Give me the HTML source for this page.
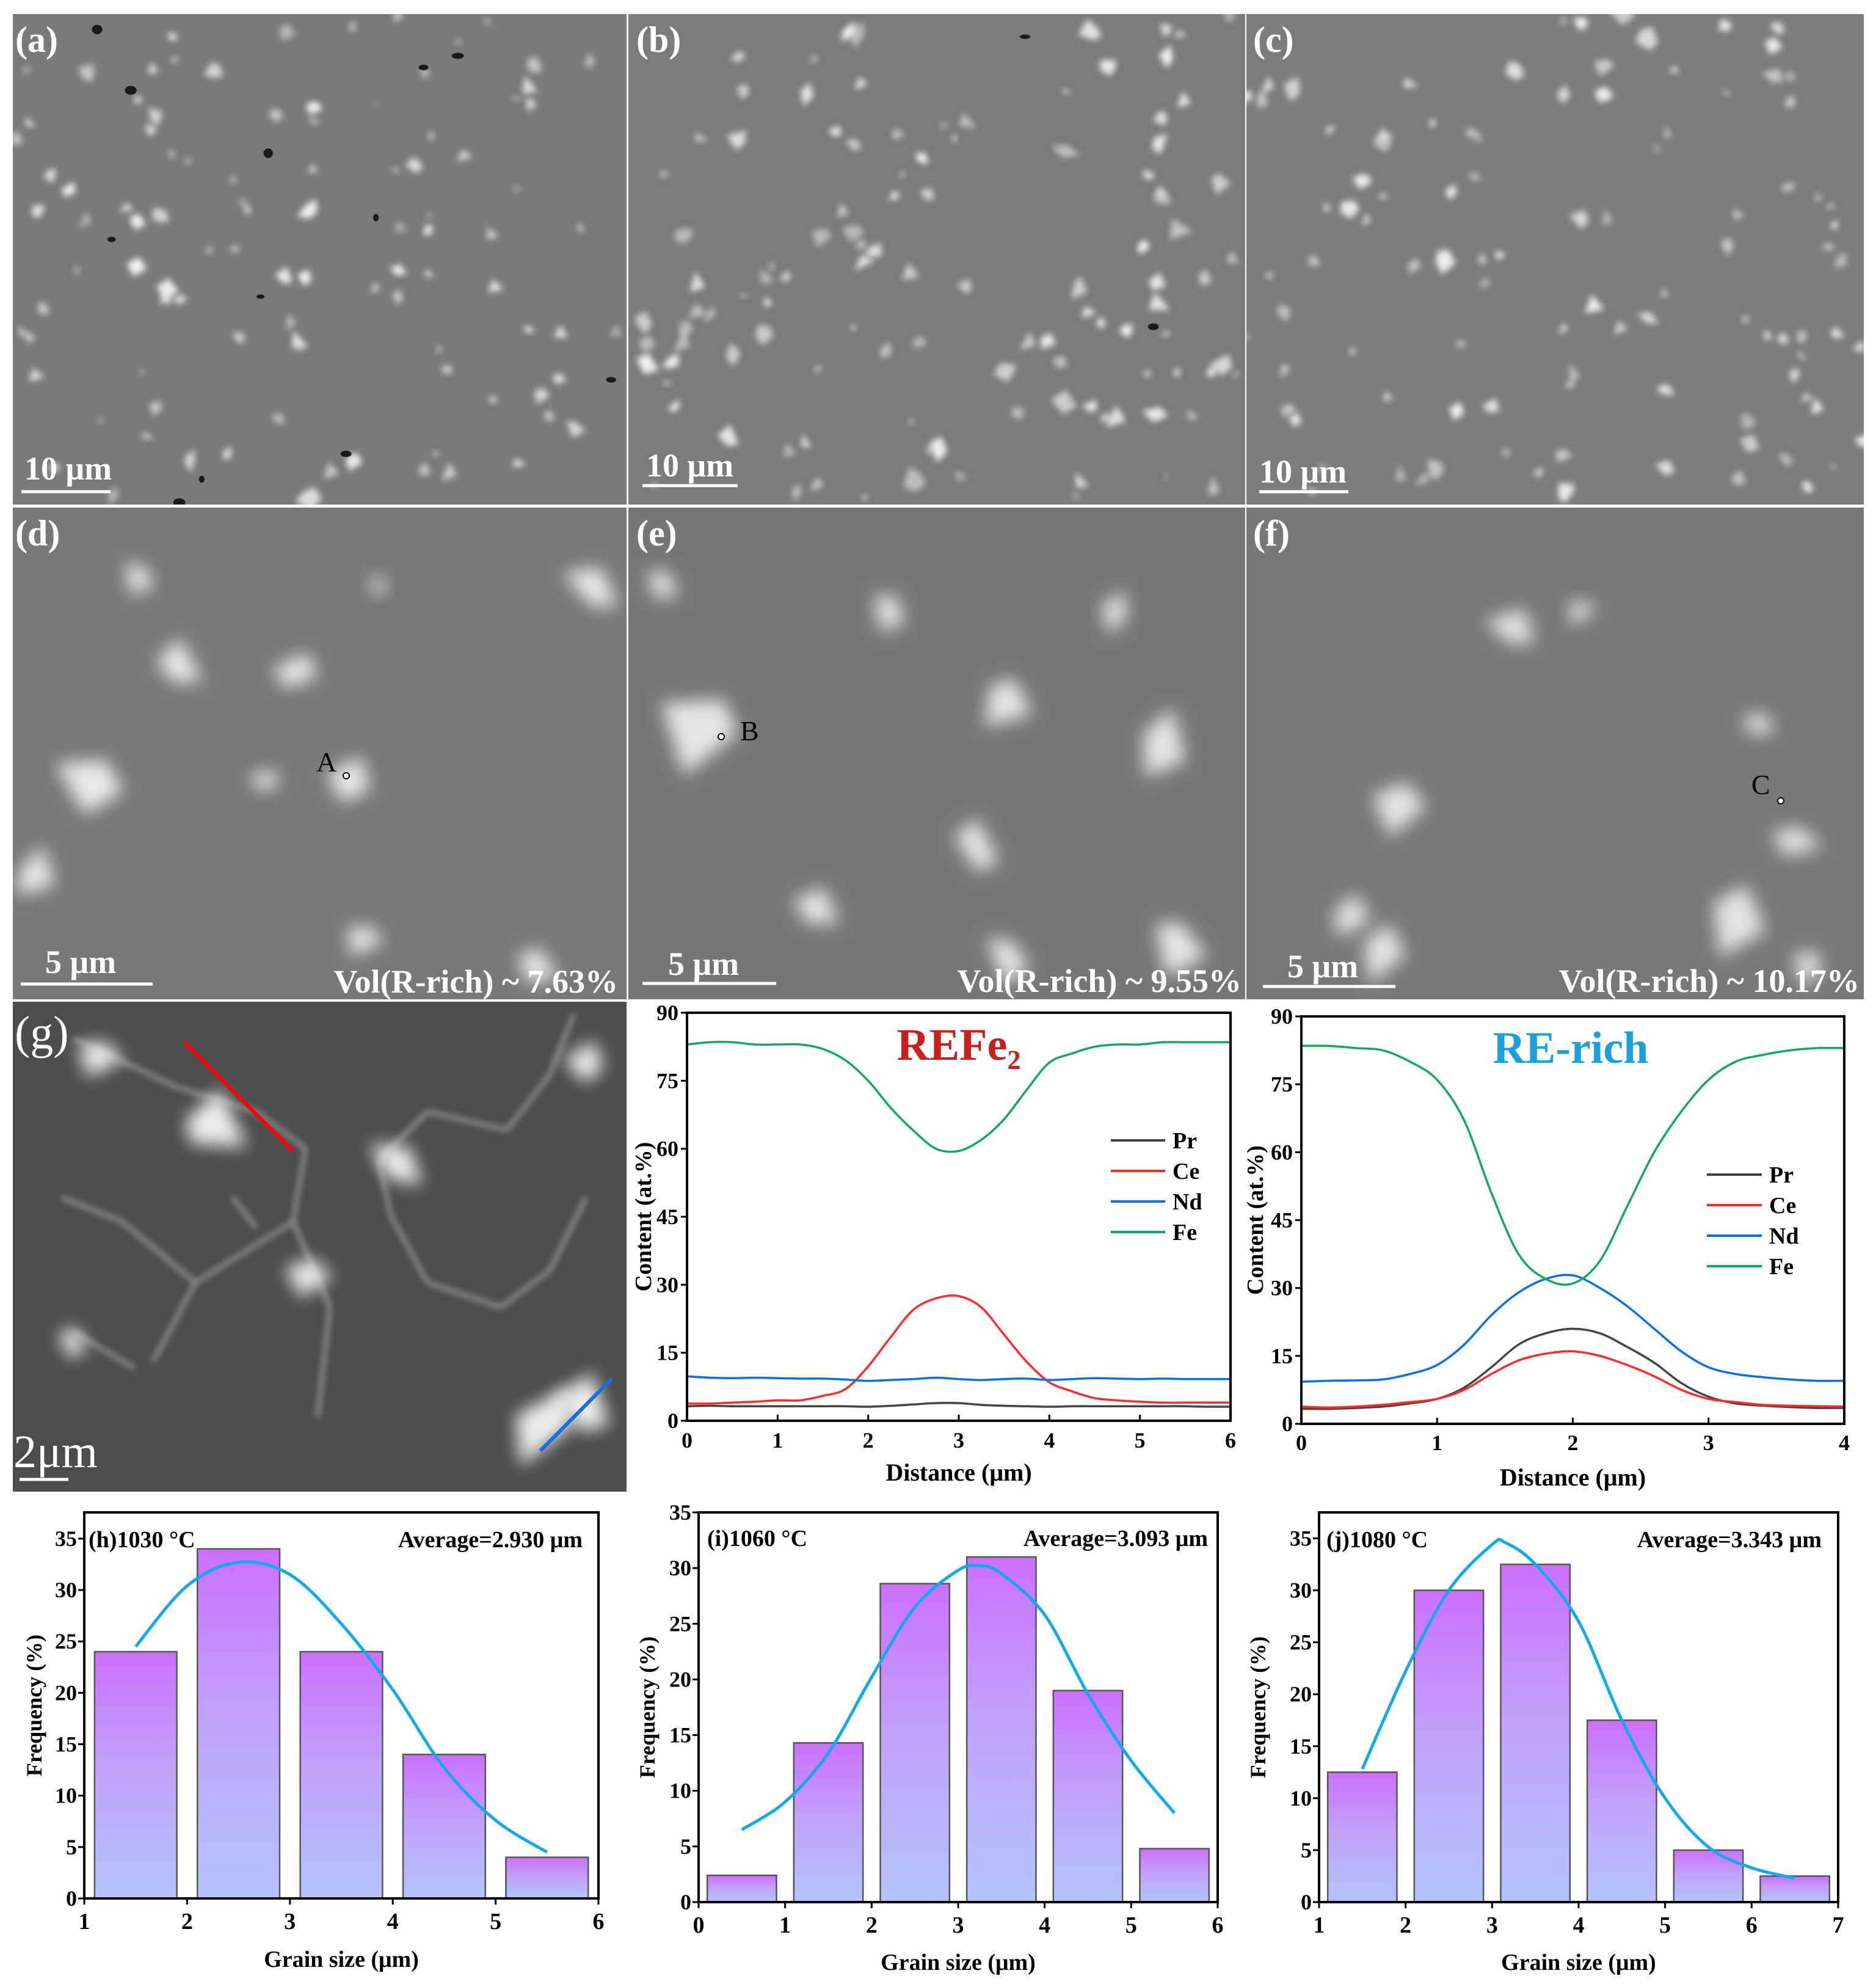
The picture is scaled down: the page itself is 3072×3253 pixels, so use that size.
<!DOCTYPE html>
<html><head><meta charset="utf-8">
<style>
html,body{margin:0;padding:0;background:#fff;}
svg{display:block;font-family:"Liberation Serif",serif;}
</style></head>
<body>
<svg id="fig" width="3072" height="3253" viewBox="0 0 3072 3253" xmlns="http://www.w3.org/2000/svg">
<defs>
<filter id="blur6" x="-50%" y="-50%" width="200%" height="200%"><feGaussianBlur stdDeviation="5"/></filter>
<filter id="blur14" x="-50%" y="-50%" width="200%" height="200%"><feGaussianBlur stdDeviation="14"/></filter>
<linearGradient id="barGrad" x1="0" y1="0" x2="0" y2="1">
<stop offset="0" stop-color="#cb6ffd"/><stop offset="0.45" stop-color="#c2a0fb"/><stop offset="1" stop-color="#b3c4fd"/>
</linearGradient>
<clipPath id="clipA"><rect x="21" y="23" width="1005" height="803"/></clipPath>
<clipPath id="clipB"><rect x="1029" y="23" width="1010" height="803"/></clipPath>
<clipPath id="clipC"><rect x="2041" y="23" width="1011" height="803"/></clipPath>
<clipPath id="clipD"><rect x="21" y="831" width="1005" height="805"/></clipPath>
<clipPath id="clipE"><rect x="1029" y="831" width="1010" height="805"/></clipPath>
<clipPath id="clipF"><rect x="2041" y="831" width="1011" height="805"/></clipPath>
<clipPath id="clipG"><rect x="21" y="1640" width="1005" height="802"/></clipPath>
</defs>
<g id="micro"></g>
<g id="charts"></g>
</svg>
<script>
// ===== Line profile data (REFe2, d = 0..6 step 0.25 µm) =====
const refeDist = [0,0.25,0.5,0.75,1,1.25,1.5,1.75,2,2.25,2.5,2.75,3,3.25,3.5,3.75,4,4.25,4.5,4.75,5,5.25,5.5,5.75,6];
const refeFe = [83,83.5,83.5,83,83,83,82,79.5,75,69,64,60,59.5,62,66.5,73,79,81,82.5,83,83,83.5,83.5,83.5,83.5];
const refeCe = [3.8,3.8,4,4.2,4.5,4.5,5.5,7,12,18.5,24.5,27,27.5,25,19,13,8.5,6.5,5,4.5,4.2,4,4,4,4];
const refeNd = [9.8,9.5,9.4,9.5,9.4,9.3,9.3,9.1,8.8,9.0,9.2,9.5,9.2,9.0,9.2,9.3,9.0,9.2,9.4,9.3,9.2,9.3,9.2,9.2,9.2];
const refePr = [3.2,3.3,3.2,3.2,3.2,3.2,3.2,3.2,3.1,3.3,3.6,3.9,3.9,3.5,3.3,3.2,3.1,3.2,3.2,3.2,3.2,3.2,3.2,3.1,3.1];
// ===== Line profile data (RE-rich, d = 0..4 step 0.2 µm) =====
const rerDist = [0,0.2,0.4,0.6,0.8,1,1.2,1.4,1.6,1.8,2,2.2,2.4,2.6,2.8,3,3.2,3.4,3.6,3.8,4];
const rerFe = [83.5,83.5,83,82.5,80,76,67,51,37.5,32,31,36,48,60,69,76,80,81.5,82.5,83,83];
const rerNd = [9.3,9.5,9.6,9.8,11,13,17.5,24,29,32,32.8,30,26,21,16,12.5,11,10.3,9.8,9.5,9.5];
const rerPr = [3.3,3.3,3.5,3.8,4.5,5.5,8,12.5,17.5,20,21,20,17,13.5,9,6,4.5,4,3.7,3.5,3.5];
const rerCe = [3.8,3.6,3.8,4.2,4.8,5.5,7.5,11,14,15.5,16,15,13,10.5,7.5,5.5,4.8,4.2,4,3.9,3.8];
const contentTicks = [0,15,30,45,60,75,90];
const refeXTicks = [0,1,2,3,4,5,6];
const rerXTicks = [0,1,2,3,4];
const elementNames = ["Pr","Ce","Nd","Fe"];
// ===== Histogram data =====
const hBins = [1.5,2.5,3.5,4.5,5.5];
const hFreq = [24,34,24,14,4];
const hFitX = [1.5,2,2.5,3,3.5,4,4.5,5,5.5];
const hFitY = [24.5,30.4,32.7,31.5,26.7,20.3,12.7,7.6,4.5];
const hXTicks = [1,2,3,4,5,6];
const hYTicks = [0,5,10,15,20,25,30,35];
const iBins = [0.5,1.5,2.5,3.5,4.5,5.5];
const iFreq = [2.4,14.3,28.6,31,19,4.8];
const iFitX = [0.5,1,1.5,2,2.5,3,3.25,3.5,4,4.5,5,5.5];
const iFitY = [6.5,9.0,13.4,20.2,26.5,29.8,30.2,29.5,25.8,18.7,12.7,8];
const iXTicks = [0,1,2,3,4,5,6];
const iYTicks = [0,5,10,15,20,25,30,35];
const jBins = [1.5,2.5,3.5,4.5,5.5,6.5];
const jFreq = [12.5,30,32.5,17.5,5,2.5];
const jFitX = [1.5,2,2.5,3,3.15,3.5,4,4.5,5,5.5,6,6.5];
const jFitY = [12.8,22.2,30,34.4,34.6,32.5,27,17.5,10,5.3,3.3,2.3];
const jXTicks = [1,2,3,4,5,6,7];
const jYTicks = [0,5,10,15,20,25,30,35];

const NS = "http://www.w3.org/2000/svg";
function mk(tag, attrs, parent, text){
  const e = document.createElementNS(NS, tag);
  for (const k in attrs) e.setAttribute(k, attrs[k]);
  if (text !== undefined) e.textContent = text;
  parent.appendChild(e);
  return e;
}
function smoothPath(pts){
  let d = "M" + pts[0][0].toFixed(1) + "," + pts[0][1].toFixed(1);
  for (let i = 0; i < pts.length - 1; i++){
    const p0 = pts[i-1] || pts[i], p1 = pts[i], p2 = pts[i+1], p3 = pts[i+2] || p2;
    const c1x = p1[0] + (p2[0]-p0[0])/6, c1y = p1[1] + (p2[1]-p0[1])/6;
    const c2x = p2[0] - (p3[0]-p1[0])/6, c2y = p2[1] - (p3[1]-p1[1])/6;
    d += " C" + c1x.toFixed(1)+","+c1y.toFixed(1)+" "+c2x.toFixed(1)+","+c2y.toFixed(1)+" "+p2[0].toFixed(1)+","+p2[1].toFixed(1);
  }
  return d;
}

// ================= Micrographs =================
const micro = document.getElementById("micro");
let seed = 12345;
function rnd(){ seed = (seed * 1103515245 + 12345) % 2147483648; return seed / 2147483648; }

function panel(name, x, y, w, h, bg, clip){
  const g = mk("g", {"clip-path": "url(#"+clip+")"}, micro);
  
  
  mk("rect", {x:x, y:y, width:w, height:h, fill:bg}, g);
  return g;
}
function spots(g, x, y, w, h, n, rmin, rmax, dark){
  for (let i = 0; i < n; i++){
    const cx = x + rnd()*w, cy = y + rnd()*h, r = rmin + rnd()*(rmax-rmin);
    const pts = [];
    const k = 3 + Math.floor(rnd()*3);
    for (let j = 0; j < k; j++){
      const a = j/k*Math.PI*2 + rnd()*0.6, rr = r*(0.5 + rnd()*0.9);
      pts.push((cx + Math.cos(a)*rr).toFixed(1) + "," + (cy + Math.sin(a)*rr).toFixed(1));
    }
    mk("polygon", {points: pts.join(" "), fill: "#f4f4f4", opacity: (0.5 + rnd()*0.5).toFixed(2), filter: "url(#blur6)"}, g);
  }
  for (let i = 0; i < dark; i++){
    mk("ellipse", {cx: x + rnd()*w, cy: y + rnd()*h, rx: 4 + rnd()*6, ry: 3 + rnd()*5, fill: "#1a1a1a"}, g);
  }
}
function blobs(g, list, bright){
  list.forEach(b => {
    const [cx, cy, r] = b;
    const pts = [];
    for (let j = 0; j < 4; j++){
      const a = j/4*Math.PI*2 + rnd()*0.8, rr = r*(0.6 + rnd()*0.8);
      pts.push((cx + Math.cos(a)*rr).toFixed(1) + "," + (cy + Math.sin(a)*rr).toFixed(1));
    }
    mk("polygon", {points: pts.join(" "), fill: bright, filter: "url(#blur14)"}, g);
  });
}
function label(g, txt, x, y, size, name, opts){
  const t = mk("text", Object.assign({x:x, y:y, "font-size":size, "font-weight":"bold", fill:"#fff"}, opts||{}), g, txt);
  
  
  return t;
}
function scaleBar(g, txt, tx, ty, x1, x2, by, name){
  label(g, txt, tx, ty, 54, name + "-label");
  const l = mk("line", {x1:x1, x2:x2, y1:by, y2:by, stroke:"#fff", "stroke-width":5}, g);
  
  
}

// Row 1
const pa = panel("micrograph-a", 21, 23, 1005, 803, "#7a7a7a", "clipA");
spots(pa, 21, 23, 1005, 803, 100, 6, 17, 12);
label(pa, "(a)", 25, 85, 60, "panel-label-a");
scaleBar(pa, "10 μm", 40, 785, 35, 181, 805, "scale-bar-a");
const pb = panel("micrograph-b", 1029, 23, 1010, 803, "#7b7b7b", "clipB");
spots(pb, 1029, 23, 1010, 803, 110, 6, 20, 2);
label(pb, "(b)", 1042, 85, 60, "panel-label-b");
scaleBar(pb, "10 μm", 1058, 780, 1052, 1208, 795, "scale-bar-b");
const pc = panel("micrograph-c", 2041, 23, 1011, 803, "#7c7c7c", "clipC");
spots(pc, 2041, 23, 1011, 803, 100, 6, 19, 0);
label(pc, "(c)", 2052, 85, 60, "panel-label-c");
scaleBar(pc, "10 μm", 2062, 790, 2062, 2208, 805, "scale-bar-c");

// Row 2
const pd = panel("micrograph-d", 21, 831, 1005, 805, "#787878", "clipD");
blobs(pd, [[140,1280,55],[285,1085,40],[480,1100,35],[430,1275,30],[580,1285,35],[970,960,45],[60,1430,40],[595,1540,35],[880,1580,40],[230,945,25],[620,960,15]], "#eaeaea");
label(pd, "(d)", 25, 893, 60, "panel-label-d");
scaleBar(pd, "5 μm", 74, 1593, 34, 250, 1611, "scale-bar-d");
label(pd, "Vol(R-rich) ~ 7.63%", 1012, 1625, 54, "vol-fraction-d", {"text-anchor":"end"});
mk("text", {x:518, y:1263, "font-size":46, fill:"#000"}, pd, "A");
mk("circle", {cx:567, cy:1270, r:5, fill:"#fff", stroke:"#000", "stroke-width":2}, pd);
const pe = panel("micrograph-e", 1029, 831, 1010, 805, "#767676", "clipE");
blobs(pe, [[1140,1200,60],[1090,960,35],[1450,995,40],[1600,1380,40],[1650,1145,55],[1910,1215,60],[1930,1540,45],[1650,1570,35],[1340,1480,45],[1820,1000,30]], "#e6e6e6");
label(pe, "(e)", 1042, 893, 60, "panel-label-e");
scaleBar(pe, "5 μm", 1094, 1596, 1052, 1271, 1610, "scale-bar-e");
label(pe, "Vol(R-rich) ~ 9.55%", 2033, 1624, 54, "vol-fraction-e", {"text-anchor":"end"});
mk("circle", {cx:1181, cy:1206, r:5, fill:"#fff", stroke:"#000", "stroke-width":2}, pe);
mk("text", {x:1212, y:1212, "font-size":46, fill:"#000"}, pe, "B");
const pf = panel("micrograph-f", 2041, 831, 1011, 805, "#787878", "clipF");
blobs(pf, [[2480,1020,45],[2285,1320,50],[2840,1510,55],[2940,1380,40],[2210,1500,45],[2590,1000,25],[2880,1190,25],[2260,1560,40],[2960,1580,30]], "#e4e4e4");
label(pf, "(f)", 2052, 893, 60, "panel-label-f");
scaleBar(pf, "5 μm", 2108, 1600, 2068, 2285, 1615, "scale-bar-f");
label(pf, "Vol(R-rich) ~ 10.17%", 3045, 1624, 54, "vol-fraction-f", {"text-anchor":"end"});
mk("text", {x:2868, y:1300, "font-size":46, fill:"#000"}, pf, "C");
mk("circle", {cx:2916, cy:1311, r:5, fill:"#fff", stroke:"#000", "stroke-width":2}, pf);

// Row 3 (g)
const pg = panel("micrograph-g", 21, 1640, 1005, 802, "#4c4c4c", "clipG");
const gl = mk("g", {stroke:"#8a8a8a", "stroke-width":8, fill:"none", filter:"url(#blur6)"}, pg);
[[120,1700,290,1780],[290,1780,420,1820],[420,1820,500,1880],[500,1880,480,2000],[480,2000,320,2100],[320,2100,250,2230],
 [480,2000,540,2140],[540,2140,520,2320],[620,1900,700,1820],[700,1820,830,1850],[830,1850,900,1760],[900,1760,940,1660],
 [620,1900,640,1990],[640,1990,700,2100],[700,2100,820,2140],[820,2140,900,2080],[900,2080,960,1960],[100,1960,200,2000],
 [200,2000,320,2100],[120,2180,220,2240],[380,1960,420,2010]].forEach(s => mk("line", {x1:s[0],y1:s[1],x2:s[2],y2:s[3]}, gl));
blobs(pg, [[340,1835,60],[150,1730,40],[650,1905,45],[500,2080,35],[890,2330,70],[960,2295,50],[960,1740,30],[120,2200,30]], "#eeeeee");
mk("text", {x:24, y:1716, "font-size":76, fill:"#fff"}, pg, "(g)");
mk("text", {x:22, y:2402, "font-size":76, fill:"#fff"}, pg, "2μm");
mk("line", {x1:32, x2:112, y1:2422, y2:2422, stroke:"#fff", "stroke-width":5}, pg);
const redLine = mk("line", {x1:302, y1:1706, x2:479, y2:1884, stroke:"#ff0000", "stroke-width":6}, pg);


const blueLine = mk("line", {x1:1002, y1:2257, x2:885, y2:2375, stroke:"#1a6fe0", "stroke-width":6}, pg);



// ================= Charts =================
const charts = document.getElementById("charts");
const lineColors = ["#444444","#ff2b2b","#0a6ee8","#12a85e"];

function lineChart(cfg){
  const g = mk("g", {}, charts);
  
  
  const {L,R,T,B,xmax} = cfg;
  const sx = v => L + (v/xmax)*(R-L);
  const sy = v => B - (v/90)*(B-T);
  contentTicks.forEach(v => {
    mk("line", {x1:L-10, x2:L, y1:sy(v), y2:sy(v), stroke:"#000", "stroke-width":3}, g);
    const t = mk("text", {x:L-14, y:sy(v)+12, "font-size":36, "font-weight":"bold", "text-anchor":"end"}, g, String(v));
    
  });
  cfg.xticks.forEach(v => {
    mk("line", {x1:sx(v), x2:sx(v), y1:B, y2:B-10, stroke:"#000", "stroke-width":3}, g);
    const t = mk("text", {x:sx(v), y:cfg.tickBase, "font-size":36, "font-weight":"bold", "text-anchor":"middle"}, g, String(v));
    
  });
  cfg.series.forEach((s, i) => {
    const pts = cfg.dist.map((d, k) => [sx(d), sy(s[k])]);
    const p = mk("path", {d: smoothPath(pts), fill:"none", stroke: lineColors[i], "stroke-width":3.5}, g);
    
    
  });
  mk("rect", {x:L, y:T, width:R-L, height:B-T, fill:"none", stroke:"#000", "stroke-width":4}, g);
  elementNames.forEach((n, i) => {
    const y = cfg.legY + i*cfg.legDy;
    const le = mk("g", {}, g);
    
    
    mk("line", {x1:cfg.legX1, x2:cfg.legX2, y1:y, y2:y, stroke: lineColors[i], "stroke-width":4}, le);
    mk("text", {x:cfg.legX2+12, y:y+13, "font-size":38, "font-weight":"bold"}, le, n);
  });
  const title = mk("text", {x:cfg.titleX, y:cfg.titleY, "font-size":74, "font-weight":"bold", fill:cfg.titleColor, "text-anchor":"middle"}, g, cfg.title);
  
  const yt = mk("text", {x:cfg.ylabX, y:(T+B)/2, "font-size":38, "font-weight":"bold", "text-anchor":"middle", transform:"rotate(-90 "+cfg.ylabX+" "+((T+B)/2)+")"}, g, "Content (at.%)");
  
  const xt = mk("text", {x:(L+R)/2, y:cfg.xlabY, "font-size":40, "font-weight":"bold", "text-anchor":"middle"}, g, "Distance (μm)");
  
}
lineChart({name:"line-profile-refe2", L:1125, R:2015, T:1658, B:2326, xmax:6, xticks:refeXTicks, tickBase:2370,
  dist:refeDist, series:[refePr, refeCe, refeNd, refeFe], legX1:1819, legX2:1908, legY:1867, legDy:50,
  title:"REFe₂", titleX:1570, titleY:1735, titleColor:"#c8201e", ylabX:1066, xlabY:2424});
lineChart({name:"line-profile-re-rich", L:2131, R:3020, T:1664, B:2331, xmax:4, xticks:rerXTicks, tickBase:2374,
  dist:rerDist, series:[rerPr, rerCe, rerNd, rerFe], legX1:2795, legX2:2885, legY:1923, legDy:50,
  title:"RE-rich", titleX:2572, titleY:1740, titleColor:"#1aa0dc", ylabX:2068, xlabY:2432});

function histChart(cfg){
  const g = mk("g", {}, charts);
  
  
  const {L,R,T,B,xmin,xmax,ymax} = cfg;
  const sx = v => L + (v-xmin)/(xmax-xmin)*(R-L);
  const sy = v => B - (v/ymax)*(B-T);
  cfg.bins.forEach((c, i) => {
    const r = mk("rect", {x:sx(c-0.4), y:sy(cfg.freq[i]), width:sx(c+0.4)-sx(c-0.4), height:B-sy(cfg.freq[i]), fill:"url(#barGrad)", stroke:"#555", "stroke-width":2.5}, g);
    
    
  });
  const fit = mk("path", {d: smoothPath(cfg.fitX.map((x, k) => [sx(x), sy(cfg.fitY[k])])), fill:"none", stroke:"#13a8ef", "stroke-width":5}, g);
  
  
  mk("rect", {x:L, y:T, width:R-L, height:B-T, fill:"none", stroke:"#000", "stroke-width":4}, g);
  cfg.yticks.forEach(v => {
    mk("line", {x1:L-10, x2:L, y1:sy(v), y2:sy(v), stroke:"#000", "stroke-width":3}, g);
    const t = mk("text", {x:L-12, y:sy(v)+12, "font-size":36, "font-weight":"bold", "text-anchor":"end"}, g, String(v));
    
  });
  cfg.xticks.forEach(v => {
    mk("line", {x1:sx(v), x2:sx(v), y1:B, y2:B+10, stroke:"#000", "stroke-width":3}, g);
    const t = mk("text", {x:sx(v), y:B+50, "font-size":38, "font-weight":"bold", "text-anchor":"middle"}, g, String(v));
    
  });
  mk("text", {x:cfg.tagX, y:cfg.textY, "font-size":38, "font-weight":"bold"}, g, cfg.tag);
  mk("text", {x:cfg.avgX, y:cfg.textY, "font-size":38, "font-weight":"bold", "text-anchor":"end"}, g, cfg.avg);
  const yc = (T+B)/2;
  mk("text", {x:cfg.ylabX, y:yc, "font-size":36, "font-weight":"bold", "text-anchor":"middle", transform:"rotate(-90 "+cfg.ylabX+" "+yc+")"}, g, "Frequency (%)");
  mk("text", {x:(L+R)/2, y:cfg.xlabY, "font-size":38, "font-weight":"bold", "text-anchor":"middle"}, g, "Grain size (μm)");
}
histChart({name:"histogram-h-1030", L:138, R:980, T:2476, B:3108, xmin:1, xmax:6, ymax:37.55, bins:hBins, freq:hFreq, fitX:hFitX, fitY:hFitY,
  xticks:hXTicks, yticks:hYTicks, tag:"(h)1030 °C", tagX:145, avg:"Average=2.930 μm", avgX:954, textY:2533, ylabX:68, xlabY:3220});
histChart({name:"histogram-i-1060", L:1144, R:1994, T:2476, B:3114, xmin:0, xmax:6, ymax:35, bins:iBins, freq:iFreq, fitX:iFitX, fitY:iFitY,
  xticks:iXTicks, yticks:iYTicks, tag:"(i)1060 °C", tagX:1158, avg:"Average=3.093 μm", avgX:1978, textY:2531, ylabX:1072, xlabY:3225});
histChart({name:"histogram-j-1080", L:2160, R:3010, T:2476, B:3114, xmin:1, xmax:7, ymax:37.5, bins:jBins, freq:jFreq, fitX:jFitX, fitY:jFitY,
  xticks:jXTicks, yticks:jYTicks, tag:"(j)1080 °C", tagX:2172, avg:"Average=3.343 μm", avgX:2983, textY:2533, ylabX:2072, xlabY:3225});
</script>
</body></html>
